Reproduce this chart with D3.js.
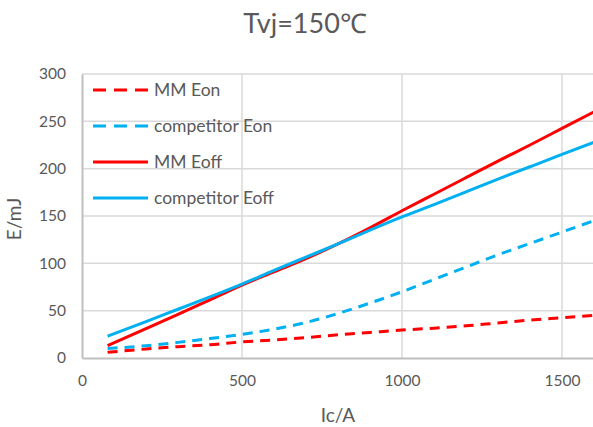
<!DOCTYPE html>
<html>
<head>
<meta charset="utf-8">
<script src="https://cdn.jsdelivr.net/npm/d3@7"></script>
<style>
  body { margin: 0; background: #fff; }
  text { font-family: Lato, "Open Sans", sans-serif; fill: #595959; }
</style>
</head>
<body>
<div id="chart"></div>
<script>
// current in A
const current = [80, 200, 300, 400, 500, 600, 700, 800, 900, 1000, 1100, 1200, 1300, 1400, 1500, 1600];

// energies in mJ
const mmEon = [6, 9.5, 12, 14, 17, 19, 21.5, 24.5, 27, 29.5, 31.5, 34, 37, 40, 42.5, 45];
const compEon = [10, 13, 16.5, 20.5, 25, 30.5, 37.5, 47, 58, 70, 83, 96, 109, 121, 133, 145];
const mmEoff = [13, 31, 46, 61.5, 77, 91, 105, 120.5, 137.5, 155.5, 173, 190.5, 208, 225, 242.5, 260];
const compEoff = [23, 38.5, 51.5, 64.5, 78, 92.5, 106.5, 120.5, 135, 149, 162, 175.5, 189, 202, 215, 228];

const xTicks = [0, 500, 1000, 1500];
const yTicks = [0, 50, 100, 150, 200, 250, 300];

const series = [
    { name: 'MM Eon', values: mmEon, color: '#ff0000', dash: true },
    { name: 'competitor Eon', values: compEon, color: '#00b0f0', dash: true },
    { name: 'MM Eoff', values: mmEoff, color: '#ff0000', dash: false },
    { name: 'competitor Eoff', values: compEoff, color: '#00b0f0', dash: false }
];

const width = 593;
const height = 427;
const margin = { top: 74, right: 0, bottom: 69, left: 82 };

const svg = d3.select("#chart")
    .append("svg")
    .attr("width", width)
    .attr("height", height);

const xScale = d3.scaleLinear()
    .domain([0, 1597])
    .range([margin.left, width - margin.right]);

const yScale = d3.scaleLinear()
    .domain([0, 300])
    .range([height - margin.bottom, margin.top]);

// grid
svg.append("g")
    .selectAll("line")
    .data(yTicks.slice(1))
    .join("line")
    .attr("x1", margin.left)
    .attr("x2", width - margin.right)
    .attr("y1", d => yScale(d))
    .attr("y2", d => yScale(d))
    .attr("stroke", "#d9d9d9")
    .attr("stroke-width", 1.5);

svg.append("g")
    .selectAll("line")
    .data(xTicks.slice(1))
    .join("line")
    .attr("x1", d => xScale(d))
    .attr("x2", d => xScale(d))
    .attr("y1", margin.top)
    .attr("y2", height - margin.bottom)
    .attr("stroke", "#d9d9d9")
    .attr("stroke-width", 1.5);

// axes
const xAxis = svg.append("g")
    .attr("transform", `translate(0,${height - margin.bottom})`)
    .call(d3.axisBottom(xScale).tickValues(xTicks).tickFormat(d3.format("d")).tickSize(0).tickPadding(17));

const yAxis = svg.append("g")
    .attr("transform", `translate(${margin.left},0)`)
    .call(d3.axisLeft(yScale).tickValues(yTicks).tickFormat(d3.format("d")).tickSize(0).tickPadding(16));

[xAxis, yAxis].forEach(a => {
    a.select(".domain").attr("stroke", "#bfbfbf").attr("stroke-width", 2);
    a.selectAll("text").style("font-size", "15.5px").attr("fill", "#595959");
});

// lines
const line = d3.line()
    .x((d, i) => xScale(current[i]))
    .y(d => yScale(d))
    .curve(d3.curveMonotoneX);

svg.append("g")
    .selectAll("path")
    .data(series)
    .join("path")
    .attr("d", d => line(d.values))
    .attr("fill", "none")
    .attr("stroke", d => d.color)
    .attr("stroke-width", 3)
    .attr("stroke-dasharray", d => d.dash ? "10,7" : null);

// legend
const legend = svg.append("g")
    .selectAll("g")
    .data(series)
    .join("g")
    .attr("transform", (d, i) => `translate(93,${90 + i * 36})`);

legend.append("line")
    .attr("x1", 0)
    .attr("x2", 55)
    .attr("stroke", d => d.color)
    .attr("stroke-width", 3)
    .attr("stroke-dasharray", d => d.dash ? "13,8" : null);

legend.append("text")
    .attr("x", 61)
    .attr("dy", "0.35em")
    .style("font-size", "17.5px")
    .text(d => d.name);

// title
svg.append("text")
    .attr("x", 305)
    .attr("y", 33)
    .attr("text-anchor", "middle")
    .style("font-size", "27px")
    .text("Tvj=150℃");

// axis labels
svg.append("text")
    .attr("x", 338)
    .attr("y", 422)
    .attr("text-anchor", "middle")
    .style("font-size", "19px")
    .text("Ic/A");

svg.append("text")
    .attr("transform", "translate(21,219) rotate(-90)")
    .attr("text-anchor", "middle")
    .style("font-size", "19px")
    .text("E/mJ");
</script>
</body>
</html>
